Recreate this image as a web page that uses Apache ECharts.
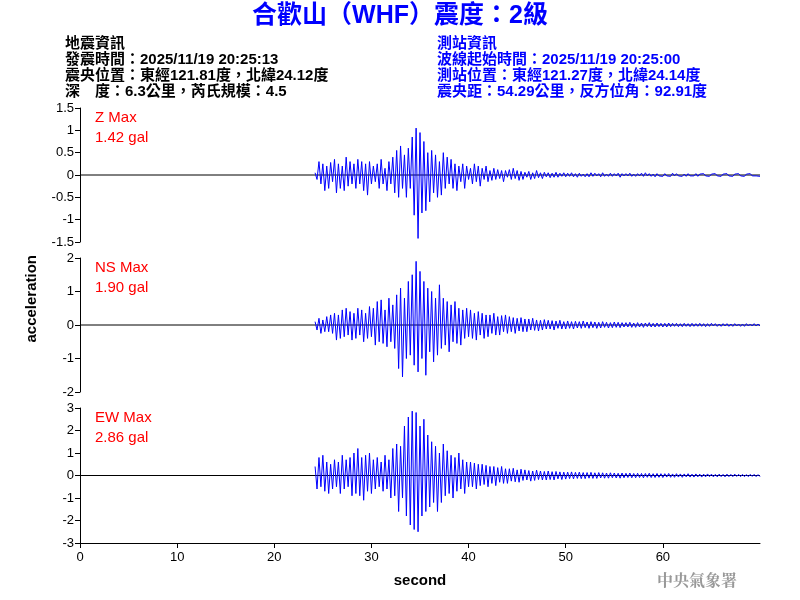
<!DOCTYPE html>
<html><head><meta charset="utf-8">
<script src="https://cdn.jsdelivr.net/npm/echarts@6/dist/echarts.min.js"></script>
<style>html,body{margin:0;background:#fff}#c{width:800px;height:600px}</style>
</head><body><div id="c"></div>
<script>
const T0 = 24.2, DT = 0.2
const zeroLine = [0, 70]

const zValues = [
  0.05,-0.1,0.3,-0.2,0.25,-0.35,0.2,-0.3,0.28,-0.15,
  0.35,-0.4,0.25,-0.3,0.2,-0.35,0.4,-0.25,0.3,-0.2,
  0.25,-0.3,0.35,-0.2,0.3,-0.35,0.25,-0.45,0.3,-0.2,
  0.2,-0.15,0.25,-0.3,0.35,-0.2,0.15,-0.35,0.3,-0.2,
  0.4,-0.4,0.55,-0.5,0.65,-0.3,0.45,-0.5,0.6,-0.3,
  0.85,-0.9,1.05,-1.42,0.95,-0.85,0.75,-0.8,0.5,-0.6,
  0.55,-0.4,0.45,-0.5,0.3,-0.45,0.5,-0.3,0.4,-0.2,
  0.35,-0.3,0.25,-0.35,0.2,-0.15,0.25,-0.3,0.2,-0.1,
  0.15,-0.2,0.25,-0.15,0.2,-0.25,0.15,-0.1,0.2,-0.15,
  0.1,-0.12,0.15,-0.1,0.12,-0.08,0.1,-0.15,0.1,-0.05,
  0.12,-0.1,0.15,-0.08,0.1,-0.12,0.08,-0.1,0.06,-0.05,
  0.08,-0.1,0.05,-0.08,0.1,-0.06,0.05,-0.08,0.06,-0.04,
  0.05,-0.06,0.04,-0.05,0.06,-0.05,0.04,-0.03,0.05,-0.04,
  0.04,-0.03,0.05,-0.04,0.03,-0.05,0.04,-0.03,0.02,-0.04,
  0.03,-0.04,0.05,-0.03,0.04,-0.02,0.03,-0.04,0.05,-0.03,
  0.02,-0.03,0.04,-0.03,0.03,-0.02,0.04,-0.05,0.03,-0.02,
  0.03,-0.02,0.04,-0.03,0.02,-0.03,0.03,-0.02,0.04,-0.03,
  0.05,-0.02,0.03,-0.03,0.02,-0.04,0.03,-0.02,0.02,-0.03,
  0.03,-0.02,0.02,-0.03,0.04,-0.02,0.03,-0.02,0.02,-0.03,
  0.02,-0.03,0.03,-0.02,0.02,-0.02,0.03,-0.03,0.02,-0.02,
  0.03,-0.02,0.02,-0.03,0.02,-0.02,0.03,-0.02,0.02,-0.03,
  0.02,-0.02,0.03,-0.02,0.02,-0.03,0.02,-0.02,0.03,-0.02,
  0.02,-0.03,0.02,-0.02,0.03,-0.02,0.02,-0.02,0.02,-0.03
]
const nsValues = [
  0.1,-0.15,0.2,-0.25,0.15,-0.2,0.25,-0.2,0.3,-0.25,
  0.35,-0.45,0.3,-0.4,0.45,-0.35,0.5,-0.3,0.4,-0.45,
  0.35,-0.4,0.5,-0.3,0.45,-0.5,0.35,-0.4,0.55,-0.35,
  0.5,-0.6,0.7,-0.5,0.75,-0.55,0.45,-0.65,0.8,-0.5,
  0.6,-0.7,0.9,-1.3,1.1,-1.55,0.8,-1.0,1.3,-0.9,
  1.5,-1.2,1.9,-1.4,1.6,-1.0,1.3,-1.5,1.1,-0.8,
  1.0,-1.1,0.8,-0.9,1.2,-0.7,0.8,-0.6,0.7,-0.8,
  0.6,-0.5,0.7,-0.55,0.5,-0.6,0.45,-0.4,0.5,-0.35,
  0.45,-0.4,0.35,-0.45,0.4,-0.3,0.35,-0.4,0.3,-0.35,
  0.3,-0.25,0.35,-0.3,0.25,-0.3,0.28,-0.2,0.3,-0.25,
  0.25,-0.2,0.22,-0.25,0.2,-0.18,0.22,-0.2,0.18,-0.2,
  0.18,-0.15,0.2,-0.16,0.15,-0.18,0.14,-0.15,0.16,-0.12,
  0.14,-0.12,0.13,-0.15,0.12,-0.1,0.14,-0.12,0.1,-0.12,
  0.12,-0.1,0.1,-0.12,0.11,-0.09,0.1,-0.1,0.12,-0.08,
  0.09,-0.1,0.1,-0.08,0.09,-0.1,0.08,-0.09,0.1,-0.07,
  0.08,-0.09,0.07,-0.08,0.09,-0.07,0.08,-0.08,0.07,-0.06,
  0.07,-0.06,0.08,-0.07,0.06,-0.07,0.07,-0.06,0.06,-0.07,
  0.06,-0.05,0.07,-0.06,0.05,-0.06,0.06,-0.05,0.05,-0.06,
  0.05,-0.06,0.06,-0.05,0.05,-0.04,0.05,-0.05,0.04,-0.05,
  0.05,-0.04,0.04,-0.05,0.05,-0.04,0.04,-0.04,0.05,-0.04,
  0.04,-0.05,0.04,-0.04,0.05,-0.03,0.04,-0.04,0.03,-0.04,
  0.04,-0.03,0.04,-0.04,0.03,-0.04,0.04,-0.03,0.03,-0.04,
  0.03,-0.04,0.04,-0.03,0.03,-0.03,0.04,-0.03,0.03,-0.03
]
const ewValues = [
  0.4,-0.6,0.8,-0.5,0.9,-0.7,0.6,-0.8,0.5,-0.6,
  0.7,-0.5,0.6,-0.8,0.9,-0.6,0.7,-0.5,0.8,-0.9,
  1.0,-0.8,1.2,-0.9,0.8,-1.1,0.9,-0.7,1.0,-0.8,
  0.7,-0.6,0.8,-0.5,0.6,-0.7,0.9,-0.6,0.7,-1.0,
  1.2,-0.9,1.4,-1.6,1.3,-1.0,2.2,-1.8,2.6,-2.2,
  2.86,-2.4,2.8,-2.5,2.2,-1.8,2.5,-1.6,1.8,-1.4,
  1.5,-1.2,1.3,-1.6,1.0,-1.2,1.4,-0.9,1.1,-0.8,
  0.9,-1.0,0.8,-0.7,1.0,-0.6,0.7,-0.8,0.6,-0.5,
  0.6,-0.5,0.55,-0.6,0.5,-0.45,0.5,-0.4,0.45,-0.5,
  0.4,-0.35,0.4,-0.45,0.35,-0.3,0.4,-0.35,0.3,-0.35,
  0.3,-0.25,0.32,-0.28,0.25,-0.3,0.28,-0.22,0.25,-0.2,
  0.22,-0.25,0.2,-0.22,0.24,-0.18,0.2,-0.2,0.18,-0.2,
  0.2,-0.18,0.17,-0.2,0.18,-0.15,0.16,-0.18,0.15,-0.16,
  0.15,-0.14,0.16,-0.15,0.14,-0.13,0.15,-0.14,0.13,-0.14,
  0.13,-0.12,0.14,-0.13,0.12,-0.13,0.13,-0.11,0.12,-0.12,
  0.11,-0.12,0.12,-0.1,0.11,-0.11,0.1,-0.12,0.11,-0.1,
  0.1,-0.09,0.11,-0.1,0.09,-0.1,0.1,-0.09,0.09,-0.1,
  0.09,-0.08,0.1,-0.09,0.08,-0.09,0.09,-0.08,0.08,-0.09,
  0.08,-0.07,0.09,-0.08,0.07,-0.08,0.08,-0.07,0.07,-0.08,
  0.07,-0.06,0.08,-0.07,0.06,-0.07,0.07,-0.06,0.06,-0.07,
  0.06,-0.06,0.07,-0.05,0.06,-0.06,0.05,-0.06,0.06,-0.05,
  0.05,-0.06,0.06,-0.05,0.05,-0.05,0.06,-0.04,0.05,-0.05,
  0.05,-0.05,0.04,-0.05,0.05,-0.04,0.05,-0.05,0.04,-0.05
]

const channels = ['Z', 'NS', 'EW']
const maxLabels = ['1.42 gal', '1.90 gal', '2.86 gal']
const yRanges = [[-1.5, 1.5, 0.5], [-2, 2, 1], [-3, 3, 1]]
const tracks = [zValues, nsValues, ewValues]

const infoLeft = ['地震資訊', '發震時間：2025/11/19 20:25:13', '震央位置：東經121.81度，北緯24.12度', '深　度：6.3公里，芮氏規模：4.5']
const infoRight = ['測站資訊', '波線起始時間：2025/11/19 20:25:00', '測站位置：東經121.27度，北緯24.14度', '震央距：54.29公里，反方位角：92.91度']

const FONT = 'Arial, "Liberation Sans", "Noto Sans CJK TC", sans-serif'
const tops = [108, 258, 408]
const heights = [134, 134, 135]

const grid = [], xAxis = [], yAxis = [], series = []
tracks.forEach((vals, i) => {
  grid.push({ left: 80, right: 40, top: tops[i], height: heights[i] })
  const last = i === 2
  xAxis.push({
    gridIndex: i, type: 'value', min: 0, max: 70, interval: 10,
    axisLine: { show: last, onZero: false, lineStyle: { color: '#000' } },
    axisTick: { show: last, length: 5, lineStyle: { color: '#000' } },
    axisLabel: { show: last, showMaxLabel: false, color: '#000', fontSize: 13, fontFamily: FONT },
    splitLine: { show: false },
    name: last ? 'second' : '', nameLocation: 'middle', nameGap: 30,
    nameTextStyle: { color: '#000', fontSize: 15, fontWeight: 'bold', fontFamily: FONT }
  })
  const [mn, mx, iv] = yRanges[i]
  yAxis.push({
    gridIndex: i, type: 'value', min: mn, max: mx, interval: iv,
    axisLine: { show: true, lineStyle: { color: '#000' } },
    axisTick: { show: true, length: 5, lineStyle: { color: '#000' } },
    axisLabel: { color: '#000', fontSize: 13, fontFamily: FONT, margin: 6 },
    splitLine: { show: false }
  })
  series.push({
    type: 'line', xAxisIndex: i, yAxisIndex: i, symbol: 'none', silent: true, z: 1,
    lineStyle: { color: '#000', width: 1 },
    data: zeroLine.map((x) => [x, 0])
  })
  series.push({
    name: channels[i], type: 'line', xAxisIndex: i, yAxisIndex: i, symbol: 'none',
    silent: true, z: 2, lineStyle: { color: '#0000ff', width: 1 },
    data: vals.map((v, k) => [+(T0 + k * DT).toFixed(2), v])
  })
})

const graphic = [
  { type: 'text', left: 'center', top: 4, style: { text: '合歡山（WHF）震度：2級', fill: '#0000ff', font: 'bold 25px ' + FONT } }
]
infoLeft.forEach((t, k) => graphic.push({ type: 'text', left: 65, top: 36 + k * 16, style: { text: t, fill: '#000', font: 'bold 15px ' + FONT } }))
infoRight.forEach((t, k) => graphic.push({ type: 'text', left: 437, top: 36 + k * 16, style: { text: t, fill: '#0000ff', font: 'bold 15px ' + FONT } }))
channels.forEach((c, i) => {
  graphic.push({ type: 'text', left: 95, top: tops[i] + 2, style: { text: c + ' Max', fill: '#ff0000', font: '15px ' + FONT } })
  graphic.push({ type: 'text', left: 95, top: tops[i] + 22, style: { text: maxLabels[i], fill: '#ff0000', font: '15px ' + FONT } })
})
graphic.push({ type: 'text', left: 24, top: 255, rotation: Math.PI / 2, style: { text: 'acceleration', fill: '#000', font: 'bold 15px ' + FONT } })
graphic.push({ type: 'text', left: 657, top: 572, style: { text: '中央氣象署', fill: '#999', font: 'bold 16px "Noto Serif CJK TC", "Noto Sans CJK TC", serif' } })

const chart = echarts.init(document.getElementById('c'))
chart.setOption({ animation: false, backgroundColor: '#fff', grid, xAxis, yAxis, series, graphic })
</script></body></html>
